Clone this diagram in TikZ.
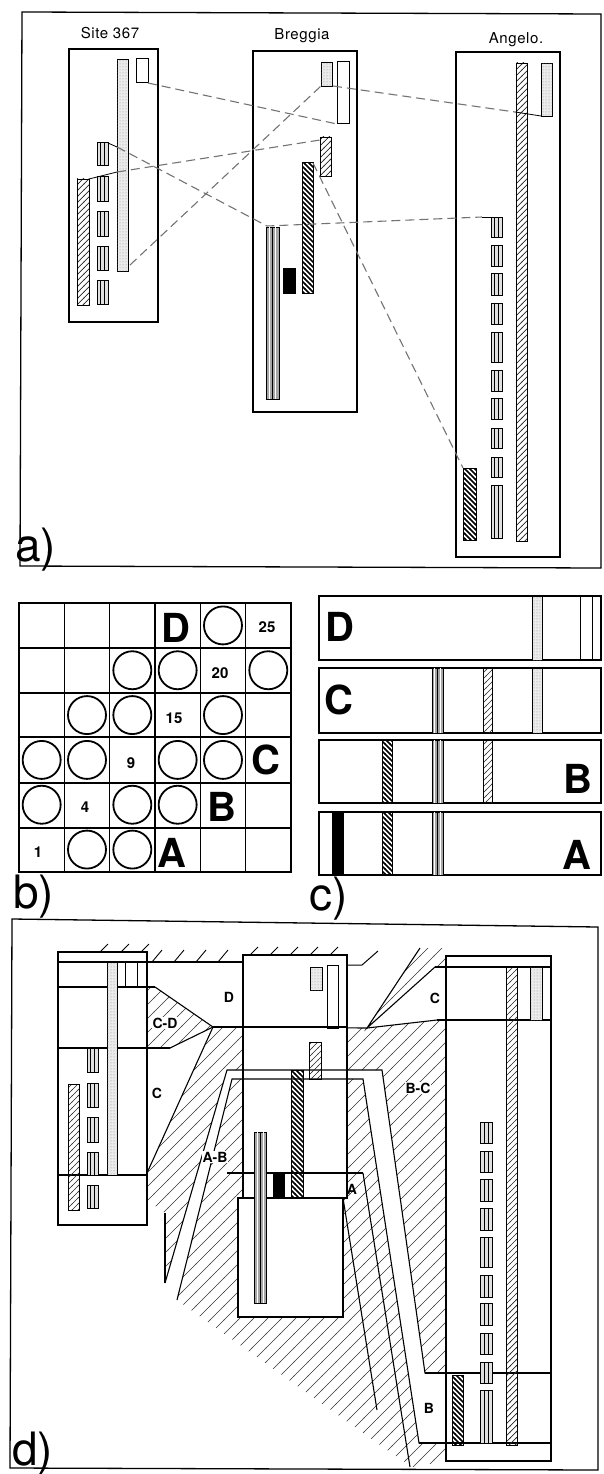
\documentclass[tikz,border=0pt]{standalone}
\usepackage{fontspec}
\setmainfont{TeX Gyre Heros}
\usetikzlibrary{patterns,patterns.meta}
\tikzdeclarepattern{name=lighthatch,type=uncolored,
  bounding box={(-0.5pt,-0.5pt) and (6.5pt,6.5pt)},tile size={(6pt,6pt)},
  code={\draw[line width=0.7pt] (-0.5pt,-0.5pt) -- (6.5pt,6.5pt);}}
\tikzdeclarepattern{name=darkhatch,type=uncolored,
  bounding box={(-0.5pt,-0.5pt) and (5.5pt,5.5pt)},tile size={(5pt,5pt)},
  code={\draw[line width=1.5pt] (-0.5pt,5.5pt) -- (5.5pt,-0.5pt);}}
\tikzdeclarepattern{name=bighatch,type=uncolored,
  bounding box={(-0.5pt,-0.5pt) and (14.5pt,14.5pt)},tile size={(14pt,14pt)},
  code={\draw[line width=0.6pt] (-0.5pt,-0.5pt) -- (14.5pt,14.5pt);}}
\newcommand{\lbx}[4]{\draw[line width=1pt,fill=black!12] (#1,#2) rectangle (#3,#4);
  \draw[line width=0.6pt] ({#1+(#3-#1)/3},#2) -- ({#1+(#3-#1)/3},#4) ({#1+2*(#3-#1)/3},#2) -- ({#1+2*(#3-#1)/3},#4);}
\newcommand{\mbar}[4]{\draw[line width=1pt,fill=black!35] (#1,#2) rectangle (#3,#4);
  \draw[line width=0.6pt,white] ({#1+(#3-#1)/4},#2) -- ({#1+(#3-#1)/4},#4) ({#1+3*(#3-#1)/4},#2) -- ({#1+3*(#3-#1)/4},#4);
  \draw[line width=0.6pt] ({#1+(#3-#1)/2},#2) -- ({#1+(#3-#1)/2},#4);}
\tikzset{
  frame/.style={line width=1.3pt},
  bx/.style={line width=1.2pt},
  dotbar/.style={draw,line width=0.9pt,fill=black!8,postaction={pattern=dots,pattern color=black!45}},
  lhbar/.style={draw,line width=0.9pt,pattern=lighthatch,pattern color=black!85},
  dhbar/.style={draw,line width=1pt,pattern=darkhatch,pattern color=black},
  blk/.style={draw,fill=black},
  corr/.style={dash pattern=on 9pt off 5pt,line width=1.1pt,black!55},
  zone/.style={pattern=bighatch,pattern color=black!80},
  ttl/.style={font=\fontsize{15}{15}\selectfont\addfontfeatures{LetterSpace=4},inner sep=0},
  plab/.style={font=\fontsize{46}{46}\selectfont,anchor=base west,inner sep=0},
  glab/.style={font=\fontsize{40}{40}\selectfont\bfseries,inner sep=0},
  num/.style={font=\fontsize{15}{15}\selectfont\bfseries,inner sep=0},
  zlab/.style={font=\fontsize{14}{14}\selectfont\bfseries,inner sep=0},
  circ/.style={line width=1.8pt},
  gl/.style={line width=1.4pt}
}
\begin{document}
\begin{tikzpicture}[x=1pt,y=-1pt]
\useasboundingbox (0,0) rectangle (604,1474);
% ================= panel a =================
\draw[frame] (22,12) -- (601,14) -- (601,568) -- (20,566) -- cycle;
\node[plab] (la) at (15,561) {a)};
\node[ttl] (t1) at (110,33) {Site 367};
\node[ttl] (t2) at (302,36) {Breggia};
\node[ttl] (t3) at (516,40) {Angelo.};
% Site 367
\draw[bx] (69,49) rectangle (158,322);
\draw[dotbar] (117,59) rectangle (128,271);
\draw[line width=1pt] (136,59) rectangle (148,83);
\foreach \a/\b in {143/166,177/201,211/236,246/270,280/304} {\lbx{97}{\a}{108}{\b}}
\draw[lhbar] (77,179) rectangle (89,305);
% Breggia
\draw[bx] (253,51) rectangle (357,412);
\draw[dotbar] (321,62) rectangle (332,86);
\draw[line width=1pt] (337,62) rectangle (349,124);
\draw[lhbar] (320,137) rectangle (331,176);
\draw[dhbar] (302,163) rectangle (313,293);
\draw[blk] (283,268) rectangle (295,293);
\mbar{266}{227}{279}{399}
% Angelo
\draw[bx] (456,52) rectangle (560,557);
\draw[lhbar] (516,63) rectangle (527,541);
\draw[dotbar] (541,63) rectangle (552,116);
\foreach \a/\b in {217/237,245/266,273/295,303/324,332/362,370/391,398/419,428/448,457/477,485/538} {\lbx{491}{\a}{502}{\b}}
\draw[dhbar] (463,468) rectangle (476,540);
% correlation lines
\coordinate (sA) at (148,83);  \coordinate (bA) at (337,124);
\coordinate (sB) at (130,265); \coordinate (bB) at (321,86);
\coordinate (bC) at (333,86);  \coordinate (aC) at (515,112); \coordinate (aC2) at (541,116);
\coordinate (sD) at (89,179);  \coordinate (sD2) at (117,172); \coordinate (bD) at (320,140);
\coordinate (sE) at (108,143); \coordinate (sE2) at (117,147); \coordinate (bE) at (267,226); \coordinate (aE) at (482,217); \coordinate (aE2) at (491,217);
\coordinate (bF) at (313,163); \coordinate (aF) at (463,468);
\draw[corr] (sA) -- (bA);
\draw[corr] (sB) -- (bB);
\draw[corr] (bC) -- (aC); \draw[line width=0.8pt] (aC) -- (aC2);
\draw[line width=0.8pt] (sD) -- (sD2); \draw[corr] (sD2) -- (bD);
\draw[line width=0.8pt] (sE) -- (sE2); \draw[corr] (sE2) -- (bE) -- (aE); \draw[line width=0.8pt] (aE) -- (aE2);
\draw[corr] (bF) -- (aF);
% ================= panel b =================
\foreach \x in {19,64.3,109.7,155,200.3,245.7,291} \draw[gl] (\x,603) -- (\x,872);
\foreach \y in {603,648,693,737,783,828,872} \draw[gl] (19,\y) -- (291,\y);
\draw[line width=2pt] (19,603) rectangle (291,872);
\foreach \r/\c in {1/5,2/3,2/4,2/6,3/2,3/3,3/5,4/1,4/2,4/4,4/5,5/1,5/3,5/4,6/2,6/3}
  \draw[circ] ({19+45.33*(\c-0.5)},{603+44.83*(\r-0.5)}) circle[radius=19pt];
\node[num] (n1) at (38,852) {1};
\node[num] (n4) at (85,807) {4};
\node[num] (n9) at (131,763) {9};
\node[num] (n15) at (174,718) {15};
\node[num] (n20) at (220,673) {20};
\node[num] (n25) at (267,627) {25};
\node[glab] (gD) at (176,628) {D};
\node[glab] (gC) at (266,760) {C};
\node[glab] (gB) at (222,807) {B};
\node[glab] (gA) at (172,853) {A};
\node[plab] (lb) at (13,908) {b)};
% ================= panel c =================
\foreach \t/\b in {596/660,668/733,740/803,812/875} \draw[line width=1.3pt] (319,\t) rectangle (601,\b);
\draw[dotbar] (532,596) rectangle (542,660);
\draw[line width=0.9pt] (580,596) -- (580,660) (592,596) -- (592,660);
\mbar{432}{668}{443}{733}
\draw[lhbar] (483,668) rectangle (492,733);
\draw[dotbar] (532,668) rectangle (542,733);
\draw[dhbar] (382,740) rectangle (392,803);
\mbar{432}{740}{443}{803}
\draw[lhbar] (483,740) rectangle (492,803);
\draw[blk] (332,812) rectangle (343,875);
\draw[dhbar] (382,812) rectangle (392,875);
\mbar{432}{812}{443}{875}
\node[glab] (cD) at (340,627) {D};
\node[glab] (cC) at (339,700) {C};
\node[glab] (cB) at (578,779) {B};
\node[glab] (cA) at (577,855) {A};
\node[plab] (lc) at (309,910) {c)};
% ================= panel d =================
\draw[frame] (12,919) -- (598,927) -- (598,1470) -- (10,1468) -- cycle;
\node[plab] (ld) at (12,1465) {d)};
\fill[zone] (147,987) -- (155,987) -- (213,1027) -- (170,1048) -- (147,1048) -- cycle;
\fill[zone] (213,1028) -- (243,1028) -- (243,1070) -- (227,1070) -- (165,1283) -- (165,1213) -- (147,1200) -- (147,1173) -- cycle;
\fill[zone] (347,1028) -- (367,1028) -- (437,1020) -- (446,1020) -- (446,1373) -- (425,1373) -- (382,1070) -- (347,1070) -- cycle;
\fill[zone] (367,1028) -- (420,948) -- (446,948) -- (446,967) -- (435,967) -- cycle;
\fill[zone] (177,1300) -- (232,1079) -- (363,1079) -- (419,1443) -- (446,1443) -- (446,1461) -- (412,1467) -- (380,1445) -- cycle;
\foreach \x in {100,121,141} \draw[line width=0.9pt] (\x,952) -- (\x+8,944);
\foreach \x in {152,174,196,218} \draw[line width=0.9pt] (\x,962) -- (\x+10,950);
\foreach \x in {250,270,290,310,330} \draw[line width=0.9pt] (\x,955) -- (\x+8,947);
\draw[line width=1pt] (347,965) -- (362,965) -- (378,951);
\draw[line width=1.1pt] (155,987) -- (213,1027) -- (170,1048);
\draw[line width=1.1pt] (147,962) -- (243,962);
\draw[line width=1.1pt] (213,1027) -- (147,1173);
\draw[line width=1.1pt] (213,1027) -- (367,1028);
\draw[line width=1.1pt] (420,948) -- (367,1028) -- (435,967);
\draw[line width=1.1pt] (367,1028) -- (437,1020) -- (446,1020);
\draw[line width=1.1pt] (165,1213) -- (165,1283);
\draw[bx,fill=white] (243,955) rectangle (347,1198);
\draw[bx,fill=white] (238,1198) rectangle (343,1317);
\draw[line width=1.1pt] (165,1283) -- (227,1070) -- (382,1070) -- (425,1373) -- (446,1373);
\draw[line width=1.1pt] (177,1300) -- (232,1079) -- (363,1079) -- (419,1443) -- (446,1443);
\draw[line width=1.1pt] (213,1027) -- (347,1027);
\draw[line width=1.1pt] (227,1173) -- (363,1173);
\draw[line width=1.1pt] (363,1173) -- (410,1467);
\draw[line width=1.1pt] (343,1198) -- (377,1410);
\draw[bx,fill=white] (58,952) rectangle (147,1225);
\draw[line width=1.1pt] (58,962) -- (147,962) (58,987) -- (155,987) (58,1048) -- (170,1048) (58,1175) -- (147,1175);
\draw[dotbar] (107,962) rectangle (117,1175);
\draw[line width=1pt] (125,962) rectangle (137,987);
\foreach \a/\b in {1048/1072,1083/1107,1117/1142,1152/1175,1185/1208} {\lbx{87}{\a}{98}{\b}}
\draw[lhbar] (68,1084) rectangle (79,1210);
\draw[dotbar] (310,967) rectangle (322,990);
\draw[line width=1pt] (327,965) rectangle (338,1028);
\draw[lhbar] (309,1042) rectangle (321,1079);
\draw[dhbar] (291,1070) rectangle (303,1197);
\draw[blk] (273,1173) rectangle (284,1197);
\mbar{254}{1132}{266}{1303}
\draw[bx,fill=white] (446,956) rectangle (551,1461);
\draw[line width=1.1pt] (435,967) -- (551,967) (437,1020) -- (551,1020) (425,1373) -- (551,1373) (419,1443) -- (551,1443);
\draw[lhbar] (506,967) rectangle (517,1445);
\draw[dotbar] (530,967) rectangle (542,1020);
\foreach \a/\b in {1122/1143,1151/1172,1179/1201,1208/1230,1237/1267,1275/1297,1303/1325,1333/1354,1362/1383,1390/1443} {\lbx{480}{\a}{492}{\b}}
\draw[dhbar] (452,1375) rectangle (463,1445);
\node[zlab] (zD) at (229,997) {D};
\node[zlab,fill=white,inner sep=1pt] (zCD) at (165,1023) {C-D};
\node[zlab] (zC1) at (157,1093) {C};
\node[zlab,fill=white,inner sep=1pt] (zAB) at (215,1157) {A-B};
\node[zlab,fill=white,inner sep=1pt] (zBC) at (418,1088) {B-C};
\node[zlab] (zA) at (352,1189) {A};
\node[zlab] (zC2) at (435,998) {C};
\node[zlab] (zB) at (429,1408) {B};
\end{tikzpicture}
\end{document}
